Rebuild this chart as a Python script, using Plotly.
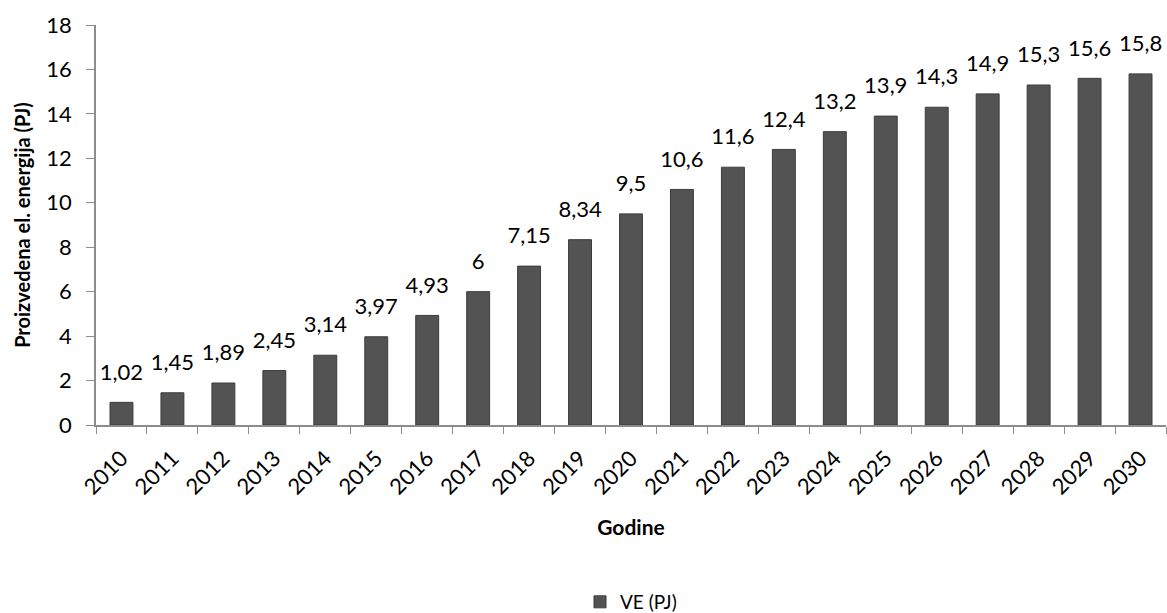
import plotly.graph_objects as go

years = [str(y) for y in range(2010, 2031)]
values = [1.02, 1.45, 1.89, 2.45, 3.14, 3.97, 4.93, 6, 7.15, 8.34, 9.5,
          10.6, 11.6, 12.4, 13.2, 13.9, 14.3, 14.9, 15.3, 15.6, 15.8]
series_name = "VE (PJ)"
y_ticks = [0, 2, 4, 6, 8, 10, 12, 14, 16, 18]

FONT = "Lato, 'Liberation Sans', sans-serif"

fig = go.Figure()
fig.add_trace(go.Bar(
    x=years, y=values, name=series_name,
    marker=dict(color="#535353", line=dict(color="#3c3c3c", width=1)),
    hoverinfo="x+y",
))
# data labels placed above the bars
fig.add_trace(go.Scatter(
    x=years, y=values, mode="markers+text", text=[f"{v:g}".replace(".", ",") for v in values],
    textposition="top center", cliponaxis=False, showlegend=False, hoverinfo="skip",
    marker=dict(size=26, color="rgba(0,0,0,0)"),
    textfont=dict(size=22, color="#000000", family=FONT),
))

fig.update_layout(
    width=1167, height=613,
    margin=dict(l=96, r=1, t=25, b=188),
    paper_bgcolor="white", plot_bgcolor="white",
    bargap=0.55,
    showlegend=True,
    legend=dict(orientation="h", x=0.5, xanchor="center", yref="container", y=0.018, yanchor="middle",
                font=dict(size=19, family=FONT, color="#000"), itemwidth=30),
    font=dict(family=FONT, color="#000"),
    xaxis=dict(
        type="category", range=[-0.5, len(years) - 0.5], tickangle=-45, tickson="boundaries", automargin=False,
        ticks="outside", ticklen=7, tickcolor="#8c8c8c", ticklabelstandoff=10,
        showline=True, linecolor="#8c8c8c", linewidth=1.5,
        tickfont=dict(size=22, family=FONT),
        title=dict(text="<b>Godine</b>", font=dict(size=21, family=FONT), standoff=22),
    ),
    yaxis=dict(
        range=[0, 18], tickvals=y_ticks, showgrid=False, automargin=False,
        ticks="outside", ticklen=8, tickcolor="#8c8c8c", ticklabelstandoff=10,
        showline=True, linecolor="#8c8c8c", linewidth=1.5,
        tickfont=dict(size=22, family=FONT), zeroline=False,
        title=dict(text="<b>Proizvedena el. energija (PJ)</b>", font=dict(size=20, family=FONT), standoff=10),
    ),
)

fig.write_html("out.html", config={"displayModeBar": False},
               post_script="document.documentElement.style.overflow='hidden';document.body.style.margin='0';document.body.style.overflow='hidden';")
